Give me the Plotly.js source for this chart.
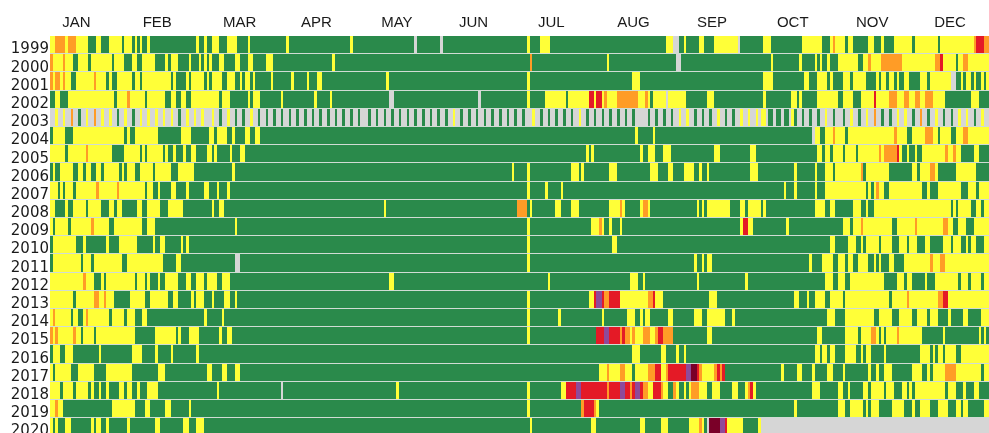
<!DOCTYPE html>
<html><head><meta charset="utf-8">
<script src="https://cdn.plot.ly/plotly-3.0.1.min.js"></script>
<style>html,body{margin:0;padding:0;background:#fff;overflow:hidden}#chart{filter:blur(0.45px)}</style>
</head><body><div id="chart" style="width:989px;height:433px"></div>
<script>
// Air quality category per day. Each token = category letter + last day (exclusive) of that run.
// G good, Y moderate, O unhealthy for sensitive, R unhealthy, P very unhealthy, M hazardous, N no data
const years = [1999,2000,2001,2002,2003,2004,2005,2006,2007,2008,2009,2010,2011,2012,2013,2014,2015,2016,2017,2018,2019,2020];
const monthLabels = ["JAN","FEB","MAR","APR","MAY","JUN","JUL","AUG","SEP","OCT","NOV","DEC"];
const monthLabelDays = [10.3,41.8,73.9,103.8,135.2,165.1,195.4,227.4,258,289.5,320.5,350.8];
const r1999 = "Y2 O6 Y7 O10 Y15 G18 Y20 G23 Y28 G29 Y32 G33 Y34 G35 Y36 G38 Y39 G57 Y58 G60 Y61 G63 Y66 G69 Y73 G77 Y78 G92 Y93 G117 Y118 G142 N143 G152 N153 G186 Y187 G191 Y195 G240 Y243 N245 G247 Y248 G253 Y255 G259 Y268 N269 G278 Y281 G293 Y301 G304 Y305 O306 Y310 G311 Y313 G319 Y321 G324 Y325 G329 Y336 G337 Y346 G347 Y360 O361 R364 O366";
const r2000 = "O1 Y5 O6 Y9 G11 Y15 G16 Y24 G25 Y29 G32 Y34 G36 Y41 G45 Y46 G47 Y50 G54 Y55 G58 Y59 G60 Y61 G62 Y63 G66 Y68 G72 Y74 G77 Y79 G84 Y87 G110 Y111 G187 O188 G217 Y218 G244 N246 G281 Y282 G292 Y293 G298 Y299 G300 Y301 G303 Y304 G307 Y315 G317 Y319 O320 Y324 O332 Y345 O347 R348 Y353 G354 Y356 O358 Y366";
const r2001 = "O1 Y2 O4 Y5 O6 Y8 G10 Y17 O18 Y22 G23 Y24 G26 Y32 G33 Y35 G36 Y47 G48 Y49 G53 Y54 G55 Y60 G61 Y62 G63 Y67 G69 Y72 G74 Y75 G76 Y78 G79 Y80 G86 Y87 G94 Y95 G100 Y101 G104 Y106 G131 Y132 G186 Y187 G227 Y230 G278 Y282 G294 Y296 G299 Y303 G304 Y305 G309 Y312 G313 Y318 G322 Y323 G324 Y326 G327 Y329 G330 Y331 G333 Y335 G339 Y342 G343 Y351 N353 G355 Y356 G357 Y359 G360 Y361 G363 Y364 G365 Y366";
const r2002 = "G2 Y4 G7 Y25 G26 Y30 O31 Y37 G38 Y45 G47 Y49 G51 Y53 G55 Y66 G67 Y70 G77 Y78 G79 Y82 G90 Y91 G103 Y104 G109 Y110 G132 N134 G167 N168 G186 Y187 G193 Y201 G202 Y210 R212 Y213 R215 Y216 O217 Y221 O229 Y232 O233 Y234 G235 Y240 N241 Y248 G256 Y259 G278 Y279 G289 Y291 G292 Y293 G299 Y307 G309 Y313 G316 Y321 R322 Y327 O330 Y333 O335 Y337 O339 Y341 O344 Y349 G359 Y362 G366";
const d2003 = "NNY NNY NNO NNG NNY NNO NNY NNY NNG NNY NNG NNY NNY NNY NNY NNY NNG NNY NNY NNY NNNY NNG NNY NNG NNG NNY NNG NNG NNG NNG NNG NNG NNG NNG NNG NNG NNG NNG NNG NNG NNNG NNG NNG NNG NNG NNG NNG NNG NNG NNG NNG NNY NNG NNG NNG NNG NNG NNG NNG NNG NNG NNNY NNG NNG NNG NNG NNG NNY NNG NNG NNG NNG NNG NNG NNG NNN NNG NNG NNG NNG NNY NNY NNG NNG NNG NNY NNG NNG NNY NNY NNY NYY NGG NGG NGG NYG NNG NNG NNG NNY NNG NNNG NNY NNG NNY NNO NNG NNG NNY NNY NNG NNO NNG NNY NNG NNG NNY NNY NNG NNY NN";
const r2004 = "G1 Y6 G9 Y29 G30 Y31 G33 Y42 G51 Y55 G62 Y64 G65 Y69 G71 Y72 G76 Y78 G80 Y82 G228 Y229 G235 Y236 G297 N298 Y300 G302 Y305 O306 Y310 G311 Y329 O330 Y334 G336 Y341 O344 Y346 G347 Y351 G353 Y356 O358 Y366";
const r2005 = "Y6 G7 Y14 O15 Y24 G29 Y35 G36 Y37 G38 Y44 G45 Y46 G48 Y49 G52 Y53 G55 Y57 G61 Y63 G64 Y65 G70 Y71 G74 Y76 G209 Y210 G211 Y212 G230 Y231 G233 Y236 G239 Y242 G259 Y261 G273 Y275 G299 Y301 G302 Y304 G305 Y309 G310 Y314 G315 Y323 O324 Y325 O330 R331 Y332 G334 Y335 G337 Y338 G340 Y349 O350 Y352 O353 Y355 G360 Y362 G366";
const r2006 = "G1 Y2 G4 Y9 G11 Y13 G14 Y16 G18 Y20 G21 Y27 G28 Y29 G30 Y33 G35 Y40 G41 Y47 G50 Y56 G71 Y72 G180 Y181 G186 Y187 G203 Y206 G207 Y208 G218 Y221 G234 Y237 G241 Y243 G247 Y251 G253 Y254 G256 Y257 G273 Y276 G290 Y291 G298 Y299 G302 Y305 G306 Y316 O317 G318 Y327 G336 Y338 G339 Y343 O345 Y346 G353 Y361 G366";
const r2007 = "Y3 G4 Y5 G6 Y9 G10 Y18 O19 Y26 O27 Y37 G38 Y40 G42 Y43 G47 Y49 G53 Y54 G60 Y62 G65 Y66 G69 Y70 G186 Y187 G193 Y194 G199 Y200 G286 Y287 G290 Y291 G298 Y299 G302 Y318 G319 Y320 G321 Y322 O323 Y325 G327 Y340 G342 Y343 G346 Y355 G358 Y361 G362 Y366";
const r2008 = "Y2 G6 Y7 G9 Y14 G15 Y20 G23 Y25 G26 Y28 G34 Y36 G38 Y43 G46 Y52 G63 Y64 G66 Y68 G130 Y131 G182 O186 G187 Y188 G197 Y199 G203 Y206 G218 Y222 O223 Y224 G230 Y231 O233 Y234 G252 Y253 G254 Y255 G256 Y265 G269 Y271 G272 Y277 G278 Y279 G298 Y302 G304 Y306 G313 Y316 G318 Y319 G321 Y351 G352 Y353 G354 Y359 G361 Y363 G364 Y366";
const r2009 = "Y1 G2 Y7 G8 Y16 O17 Y23 G25 Y36 G38 Y41 G72 Y73 G186 Y187 G211 Y214 O215 Y216 G218 Y219 G222 Y223 G269 Y270 R272 Y274 G287 Y288 G309 Y312 G313 Y316 O317 Y328 G330 Y337 O338 Y348 O350 Y352 G354 Y357 G360 Y366";
const r2010 = "G1 Y10 G13 Y14 G22 Y23 G27 Y34 G40 Y41 G43 Y45 G51 Y52 G53 Y54 G186 Y187 G219 Y221 G304 Y306 G311 Y314 G316 Y317 G318 Y323 G324 Y328 G331 Y334 G335 Y338 G341 Y343 G348 Y351 G352 Y355 G357 Y358 G359 Y361 G364 Y366";
const r2011 = "G1 Y12 G13 Y16 G17 Y28 G30 Y44 G49 Y51 G72 N74 G186 Y187 G251 Y252 G254 Y255 G256 Y258 G296 Y297 G301 Y305 G307 Y310 G311 Y313 G315 Y319 G321 Y322 G323 Y324 G327 Y329 G333 Y343 O344 Y347 O349 Y366";
const r2012 = "Y13 O14 Y17 G20 Y21 G22 Y33 G34 Y37 G38 Y39 G42 Y43 G45 Y50 G53 Y55 G57 Y60 G61 Y65 G67 Y70 G132 Y134 G194 Y195 G226 Y229 G231 Y232 G252 Y253 G271 Y272 G302 Y305 G307 Y310 G312 Y325 G330 Y333 G334 Y336 G341 Y342 G345 Y354 G355 Y358 G359 Y363 G364 Y366";
const r2013 = "Y9 G10 Y17 O19 Y21 O22 Y25 G31 Y37 G39 Y46 G48 Y50 G55 Y56 G57 Y60 G63 Y64 G68 Y70 G72 Y73 G186 Y187 G210 Y212 R213 P215 R216 O218 R222 Y233 O235 R236 Y239 G257 Y260 G290 Y292 G295 Y296 G298 Y302 G304 Y309 G310 Y327 G328 Y334 O335 Y346 O348 R350 Y366";
const r2014 = "Y1 O2 Y8 G9 Y11 G13 Y14 O15 Y23 G24 Y29 G30 Y33 G36 Y38 G60 Y61 G67 Y68 G186 Y187 G198 Y199 G215 Y216 G225 Y228 G230 Y231 G232 Y234 G241 Y243 G251 Y254 G256 Y263 G266 Y267 G303 Y306 G310 Y321 G323 Y328 G331 Y336 G338 Y342 G343 Y346 G350 Y351 G356 Y358 G363 Y366";
const r2015 = "O1 Y2 O3 Y9 O10 Y12 G13 Y17 G18 Y33 G41 Y49 G50 Y51 G54 Y58 G66 Y67 G69 Y71 G186 Y187 G213 R216 P218 R222 O223 R224 O226 Y227 O228 Y231 O234 Y236 O237 R239 O243 G256 Y258 G299 Y301 G310 Y315 G316 Y320 O322 Y323 G324 Y325 G326 Y330 O331 Y340 G348 Y349 G362 Y363 G364 Y365 G366";
const r2016 = "G1 Y4 G6 Y9 G19 Y20 G32 Y36 G41 Y42 G47 Y48 G57 Y58 G227 Y230 G238 Y240 G244 Y245 G247 Y248 G298 Y300 G301 Y303 G304 Y306 G310 Y314 G316 Y317 G318 Y320 G325 Y326 G339 Y343 G344 Y345 G346 Y348 G349 Y353 G355 Y366";
const r2017 = "Y1 G2 Y8 G11 Y17 G22 Y32 G42 Y45 G61 Y63 G67 Y69 G72 Y74 G214 Y217 O218 Y222 O224 Y227 G228 Y233 O236 R238 Y240 O241 R248 P250 M252 R253 O254 Y259 O260 R261 O262 R263 G285 Y286 G291 Y293 G297 Y298 G303 Y305 G309 Y310 G319 Y320 G322 Y323 G325 Y328 G336 Y340 G342 Y343 G344 Y349 O353 Y363 G364 Y366";
const r2018 = "Y4 G5 Y9 G10 Y15 G16 Y17 G19 Y20 G22 Y23 G27 Y29 G30 Y32 G34 Y35 G38 Y42 G65 Y66 G90 N91 G135 Y136 G186 Y187 G199 Y201 R205 P207 R217 O218 R222 P224 R226 O227 R228 P230 R231 O233 Y235 R238 O239 Y241 G243 O244 Y245 G247 Y248 G249 Y250 O253 Y256 G258 Y261 G266 Y268 G271 Y272 O273 R274 Y275 G297 Y300 G307 Y309 G311 Y312 G317 Y319 G320 Y325 G326 Y329 G332 Y334 G335 Y336 G337 Y349 G350 Y353 G356 Y357 G360 Y362 G366";
const r2019 = "Y2 O3 Y5 G24 Y33 G37 Y39 G45 Y47 G54 Y55 G186 Y187 G207 O208 R212 O213 Y214 G290 Y291 G307 Y310 G312 Y317 G318 Y319 G320 Y323 G328 Y333 G336 Y337 G339 Y343 G346 Y350 G353 Y355 G356 Y358 G364 Y366";
const r2020 = "Y1 G2 Y3 G6 Y8 G16 Y17 G18 Y20 G22 Y23 G30 Y31 G41 Y43 G52 Y54 G57 Y60 G187 Y188 G211 Y213 G230 Y232 G238 Y241 G249 Y253 O254 Y255 G256 N257 M261 P263 R264 Y270 G276 Y277 N366";

const code = {G:0,Y:1,O:2,R:3,P:4,M:5,N:6};
function expandRuns(s){
  const out=[]; let p=0;
  s.split(" ").forEach(t=>{const c=code[t[0]],e=+t.slice(1);for(;p<e;p++)out.push(c);});
  return out;
}
function expandDaily(s){return s.replace(/ /g,"").split("").map(c=>code[c]);}
const z = [expandRuns(r1999),expandRuns(r2000),expandRuns(r2001),expandRuns(r2002),expandDaily(d2003),
  expandRuns(r2004),expandRuns(r2005),expandRuns(r2006),expandRuns(r2007),expandRuns(r2008),expandRuns(r2009),
  expandRuns(r2010),expandRuns(r2011),expandRuns(r2012),expandRuns(r2013),expandRuns(r2014),expandRuns(r2015),
  expandRuns(r2016),expandRuns(r2017),expandRuns(r2018),expandRuns(r2019),expandRuns(r2020)];
const days = Array.from({length:366},(_,i)=>i+0.5);
const palette = ["#2a8a4b","#ffff38","#ff9c26","#e41a26","#8e4a9a","#7a0028","#d6d6d6"];
const colorscale = [];
palette.forEach((c,i)=>{colorscale.push([i/7,c]);colorscale.push([(i+1)/7,c]);});

Plotly.newPlot("chart",[{
  type:"heatmap",x:days,y:years,z:z,zmin:0,zmax:7,zauto:false,colorscale:colorscale,showscale:false,
  ygap:1,xgap:0,hoverongaps:false
}],{
  width:989,height:433,
  margin:{l:49.5,r:0,t:36,b:0,pad:0},
  paper_bgcolor:"#fff",plot_bgcolor:"#d0dcd4",
  xaxis:{side:"top",range:[0,366],tickmode:"array",tickvals:monthLabelDays,ticktext:monthLabels,
    ticks:"",ticklen:0,showgrid:false,zeroline:false,showline:false,ticklabelstandoff:5,
    tickfont:{family:"Liberation Sans, Arial, sans-serif",size:15,color:"#1a1a1a"},automargin:false},
  yaxis:{range:[2020.32,1998.5],tickmode:"array",tickvals:years,ticktext:years.map(String),
    ticks:"",ticklen:0,showgrid:false,zeroline:false,showline:false,ticklabeloverflow:"allow",ticklabelshift:-3,
    tickfont:{family:"DejaVu Sans, sans-serif",size:15,color:"#1a1a1a"},automargin:false},
  showlegend:false
},{displayModeBar:false});
</script></body></html>
